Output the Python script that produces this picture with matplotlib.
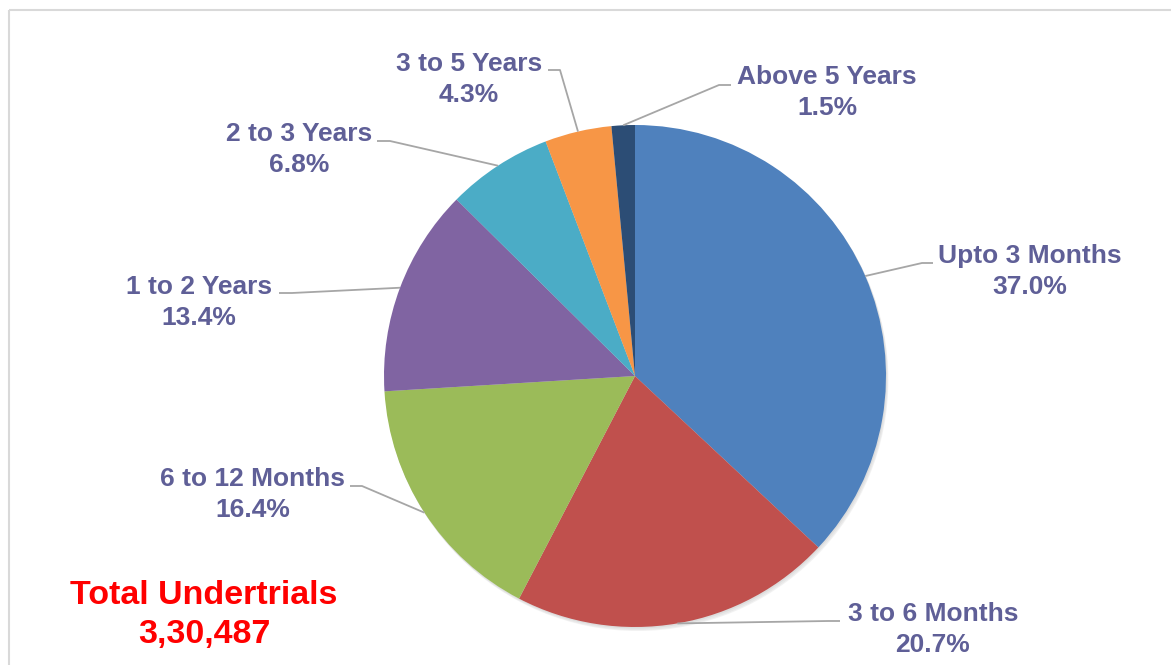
import numpy as np
import matplotlib
matplotlib.use("Agg")
import matplotlib.pyplot as plt
from matplotlib.patches import Rectangle, Circle

categories = ["Upto 3 Months", "3 to 6 Months", "6 to 12 Months", "1 to 2 Years",
              "2 to 3 Years", "3 to 5 Years", "Above 5 Years"]
shares = [37.0, 20.7, 16.4, 13.4, 6.8, 4.3, 1.5]
colors = ["#4F81BD", "#C0504D", "#9BBB59", "#8064A2", "#4BACC6", "#F79646", "#2C4D75"]
total_title = "Total Undertrials"
total_value = "3,30,487"

W, H = 1171, 665
cx, cy, R = 635, 376, 251   # pie centre / radius in pixels (y down)

# label layout: text centre x, first line y, leader elbow, leader end (pixels, y down)
label_pos = [
    (1030, 256, (922, 263), (933, 263)),
    (933, 614, (828, 621), (840, 621)),
    (253, 479, (362, 486), (350, 486)),
    (199, 287, (292, 293), (279, 293)),
    (299, 134, (390, 141), (377, 141)),
    (469, 64, (560, 70), (548, 70)),
    (827, 77, (719, 85), (731, 85)),
]

txt_col = "#5F5F97"
line_col = "#A6A6A6"
plt.rcParams['font.family'] = ['Liberation Sans', 'DejaVu Sans']

fig = plt.figure(figsize=(W / 100, H / 100), dpi=100)
ax = fig.add_axes([0, 0, 1, 1])

# outer chart border
ax.add_patch(Rectangle((9, 10), W + 20, H + 20, fill=False, edgecolor="#D9D9D9", linewidth=1.5))

# faint drop shadow behind the pie
for off, c in [(4, "#F2F2F2"), (3, "#E8E8E8"), (1.5, "#DDDDDD")]:
    ax.add_patch(Circle((cx + off * 0.6, cy + off), R, facecolor=c, edgecolor='none'))

# y axis is inverted, so counterclock=True draws clockwise on screen
wedges, _ = ax.pie(shares, colors=colors, startangle=-90, counterclock=True,
                   center=(cx, cy), radius=R, frame=True,
                   wedgeprops=dict(linewidth=0))
ax.set_xlim(0, W)
ax.set_ylim(H, 0)
ax.set_aspect('equal')
ax.axis('off')

for w, cat, val, (tx, ty, elbow, end) in zip(wedges, categories, shares, label_pos):
    mid = np.deg2rad((w.theta1 + w.theta2) / 2)
    px = cx + R * np.cos(mid)
    py = cy + R * np.sin(mid)
    ax.plot([px, elbow[0], end[0]], [py, elbow[1], end[1]], color=line_col, lw=1.3,
            solid_capstyle='butt')
    ax.text(tx, ty, cat, ha='center', va='center', fontsize=19, fontweight='bold', color=txt_col)
    ax.text(tx, ty + 31, f"{val:.1f}%", ha='center', va='center', fontsize=19,
            fontweight='bold', color=txt_col)

ax.text(204, 596, total_title, ha='center', va='center', fontsize=24.5, fontweight='bold', color="#FF0000")
ax.text(204, 634, total_value, ha='center', va='center', fontsize=24.5, fontweight='bold', color="#FF0000")

fig.savefig("out.png", dpi=100)
